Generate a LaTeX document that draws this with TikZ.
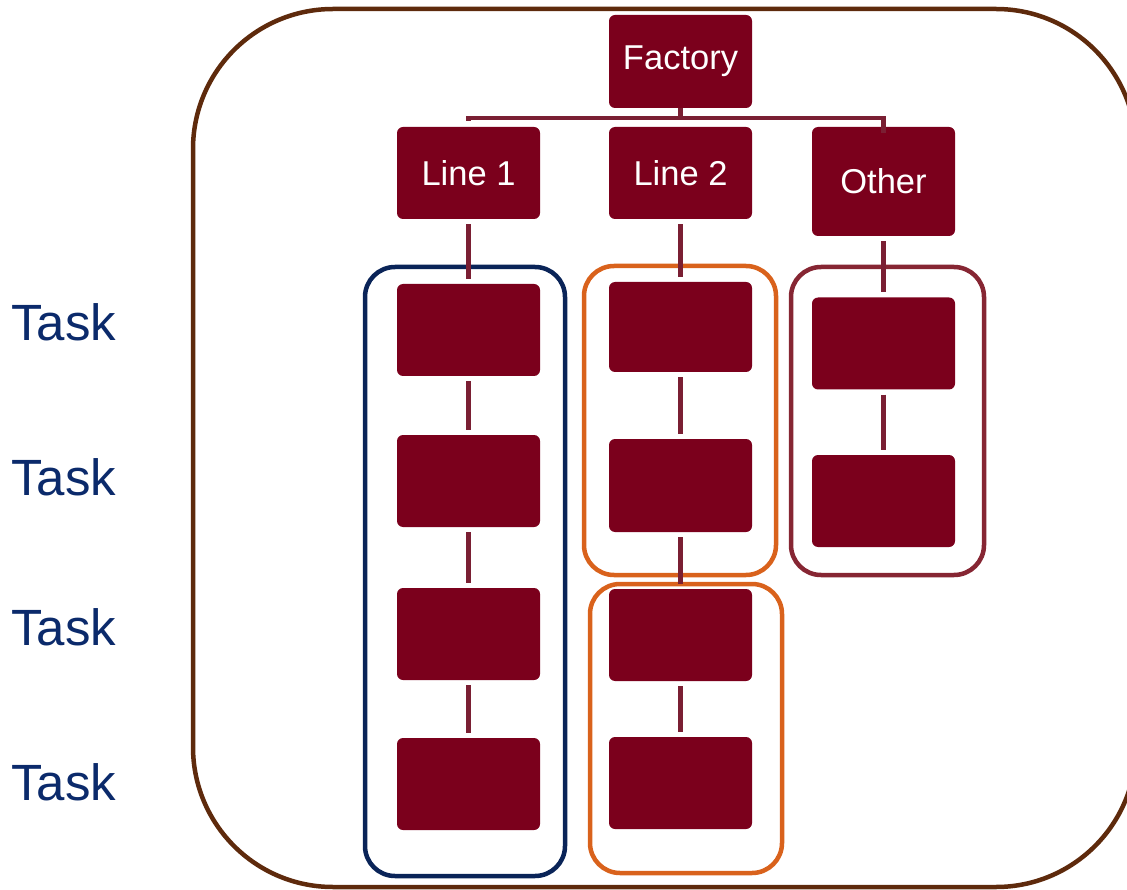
\documentclass[tikz,border=0pt]{standalone}
\usepackage{fontspec}
\setmainfont{Liberation Sans}
\definecolor{boxred}{HTML}{7B001C}
\definecolor{conn}{HTML}{7A1F33}
\definecolor{outerbrown}{HTML}{5E2A0C}
\definecolor{navyframe}{HTML}{0A2458}
\definecolor{orangeframe}{HTML}{D9621C}
\definecolor{maroonframe}{HTML}{862633}
\definecolor{tasktext}{HTML}{0B2A6B}
\tikzset{
  unitbox/.style={fill=boxred, rounded corners=6pt, minimum width=143pt, minimum height=92pt, inner sep=0pt, text=white, font=\fontsize{34.5}{40}\selectfont},
  link/.style={draw=conn, line width=4.5pt, shorten >=5pt, shorten <=5pt},
  frame/.style={line width=4.5pt, rounded corners=30pt},
  tasklabel/.style={text=tasktext, font=\fontsize{51}{58}\selectfont, anchor=west, inner sep=0pt}
}
\begin{document}
\begin{tikzpicture}[x=1pt,y=-1pt]
\useasboundingbox (0,0) rectangle (1127,890);
\clip (0,0) rectangle (1127,890);
% outer frame
\draw[draw=outerbrown, line width=4.5pt, rounded corners=140pt] (193,9) rectangle (1136,887);
% group frames
\draw[frame, draw=navyframe] (365,267) rectangle (565,876);
\draw[frame, draw=orangeframe] (584,266) rectangle (776,575);
\draw[frame, draw=orangeframe] (590,584) rectangle (782,873);
\draw[frame, draw=maroonframe] (791,267) rectangle (984,575);
% boxes
\node[unitbox, minimum height=93pt] (factory) at (680.5,61.5) {Factory};
\node[unitbox] (line1) at (468.5,173) {Line 1};
\node[unitbox] (line2) at (680.5,173) {Line 2};
\node[unitbox, minimum height=109pt] (other) at (883.5,181.5) {Other};
\node[unitbox] (a1) at (468.5,330) {};
\node[unitbox] (a2) at (468.5,481) {};
\node[unitbox] (a3) at (468.5,634) {};
\node[unitbox] (a4) at (468.5,784) {};
\node[unitbox, minimum height=90pt] (b1) at (680.5,327) {};
\node[unitbox, minimum height=93pt] (b2) at (680.5,485.5) {};
\node[unitbox] (b3) at (680.5,635) {};
\node[unitbox] (b4) at (680.5,783) {};
\node[unitbox] (c1) at (883.5,343.5) {};
\node[unitbox] (c2) at (883.5,501) {};
% bus
\coordinate (bus) at (680.5,118);
\draw[draw=conn, line width=4.5pt] (factory.south) -- (bus);
\draw[draw=conn, line width=4.5pt] (line1.north) ++(0,-6) |- (bus) -| ([yshift=-6pt]other.north);
% vertical links
\draw[link] (line1.south) -- (a1.north);
\draw[link] (a1.south) -- (a2.north);
\draw[link] (a2.south) -- (a3.north);
\draw[link] (a3.south) -- (a4.north);
\draw[link] (line2.south) -- (b1.north);
\draw[link] (b1.south) -- (b2.north);
\draw[link] (b2.south) -- (b3.north);
\draw[link] (b3.south) -- (b4.north);
\draw[link] (other.south) -- (c1.north);
\draw[link] (c1.south) -- (c2.north);
% task labels
\node[tasklabel] (t1) at (11,322) {Task};
\node[tasklabel] (t2) at (11,477) {Task};
\node[tasklabel] (t3) at (11,627) {Task};
\node[tasklabel] (t4) at (11,782) {Task};
\end{tikzpicture}
\end{document}
